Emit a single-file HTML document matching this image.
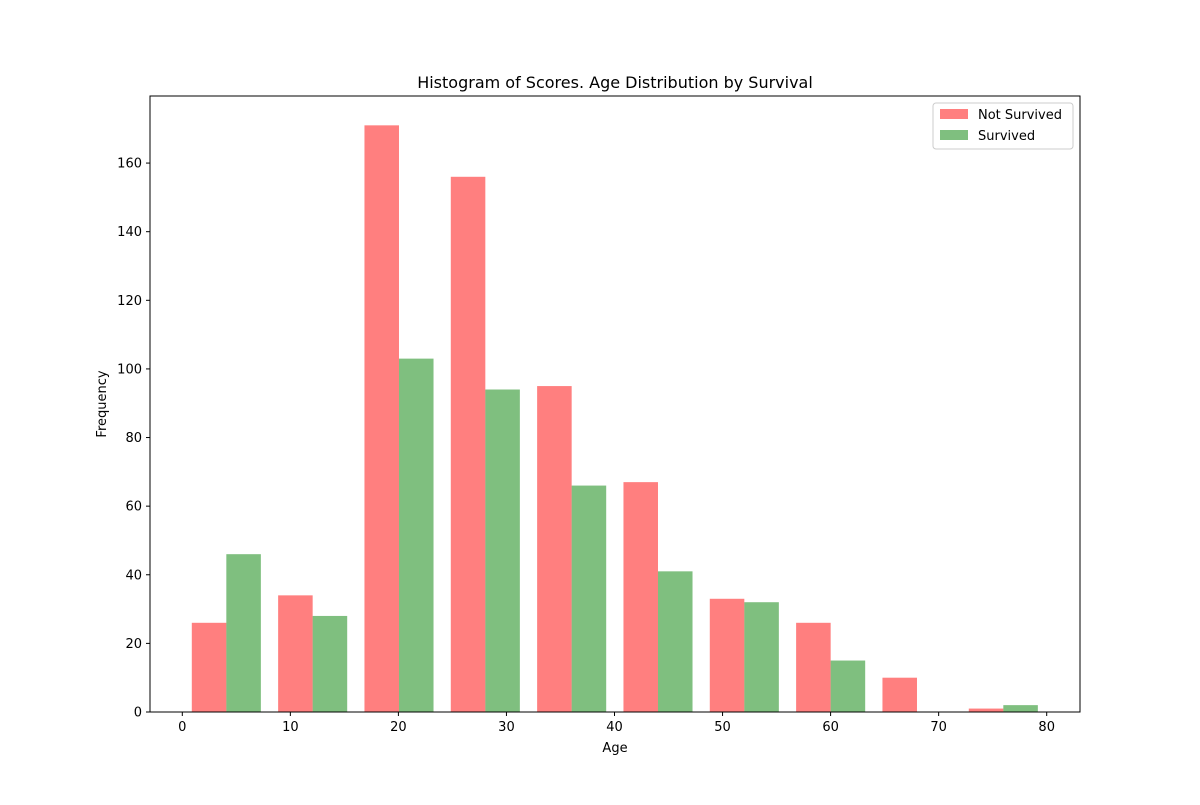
<!DOCTYPE html>
<html><head><meta charset="utf-8"><style>
body{margin:0;background:#fff;font-family:"Liberation Sans","DejaVu Sans",sans-serif}
</style></head><body>
<svg id="chart" width="1200" height="800" xmlns="http://www.w3.org/2000/svg" font-family="DejaVu Sans, Liberation Sans, sans-serif"></svg>
<script>
const binStart = 0.08;
const binWidth = 7.99;
const notSurvived = [26, 34, 171, 156, 95, 67, 33, 26, 10, 1];
const survived = [46, 28, 103, 94, 66, 41, 32, 15, 0, 2];
const xTicks = [0, 10, 20, 30, 40, 50, 60, 70, 80];
const yTicks = [0, 20, 40, 60, 80, 100, 120, 140, 160];

const L=150,R=1080,T=96,B=712;
const x=v=>182.3+v*10.805;
const y=v=>B-v*(B-T)/179.55;
const svg=document.getElementById('chart');
const NS='http://www.w3.org/2000/svg';
function mk(tag,attrs,parent){const e=document.createElementNS(NS,tag);for(const k in attrs)e.setAttribute(k,attrs[k]);(parent||svg).appendChild(e);return e;}

const bars=mk('g',{});


notSurvived.forEach((v,i)=>{
  const s=binStart+i*binWidth;
  const x0=x(s+0.1*binWidth), x1=x(s+0.5*binWidth), x2=x(s+0.9*binWidth);
  const r=mk('rect',{x:x0,y:y(v),width:x1-x0,height:B-y(v),fill:'#ff0000','fill-opacity':0.5},bars);
  
  
  const g=mk('rect',{x:x1,y:y(survived[i]),width:x2-x1,height:B-y(survived[i]),fill:'#008000','fill-opacity':0.5},bars);
  
  
});

const frame=mk('rect',{x:L,y:T,width:R-L,height:B-T,fill:'none',stroke:'#000','stroke-width':1});



xTicks.forEach(t=>{
  mk('line',{x1:x(t),x2:x(t),y1:B,y2:B+4,stroke:'#000'});
  const tx=mk('text',{x:x(t),y:B+19,'font-size':13,'text-anchor':'middle'});
  tx.textContent=t;
  
  
});
yTicks.forEach(t=>{
  mk('line',{x1:L-4,x2:L,y1:y(t),y2:y(t),stroke:'#000'});
  const tx=mk('text',{x:L-8,y:y(t)+4.5,'font-size':13,'text-anchor':'end'});
  tx.textContent=t;
  
  
});
</script>
<svg style="position:absolute;left:0;top:0" width="1200" height="800" font-family="DejaVu Sans, Liberation Sans, sans-serif">
<text x="615" y="88" font-size="16" text-anchor="middle">Histogram of Scores. Age Distribution by Survival</text>
<text x="615" y="752" font-size="13" text-anchor="middle">Age</text>
<text transform="translate(106,404) rotate(-90)" font-size="13" text-anchor="middle">Frequency</text>
<g>
<rect x="933" y="103" width="140" height="46" rx="3" fill="#fff" fill-opacity="0.8" stroke="#ccc"/>
<rect x="940" y="109" width="28" height="10" fill="#ff0000" fill-opacity="0.5"/>
<text x="978" y="119" font-size="13">Not Survived</text>
<rect x="940" y="130" width="28" height="10" fill="#008000" fill-opacity="0.5"/>
<text x="978" y="140" font-size="13">Survived</text>
</g>
</svg>
</body></html>
